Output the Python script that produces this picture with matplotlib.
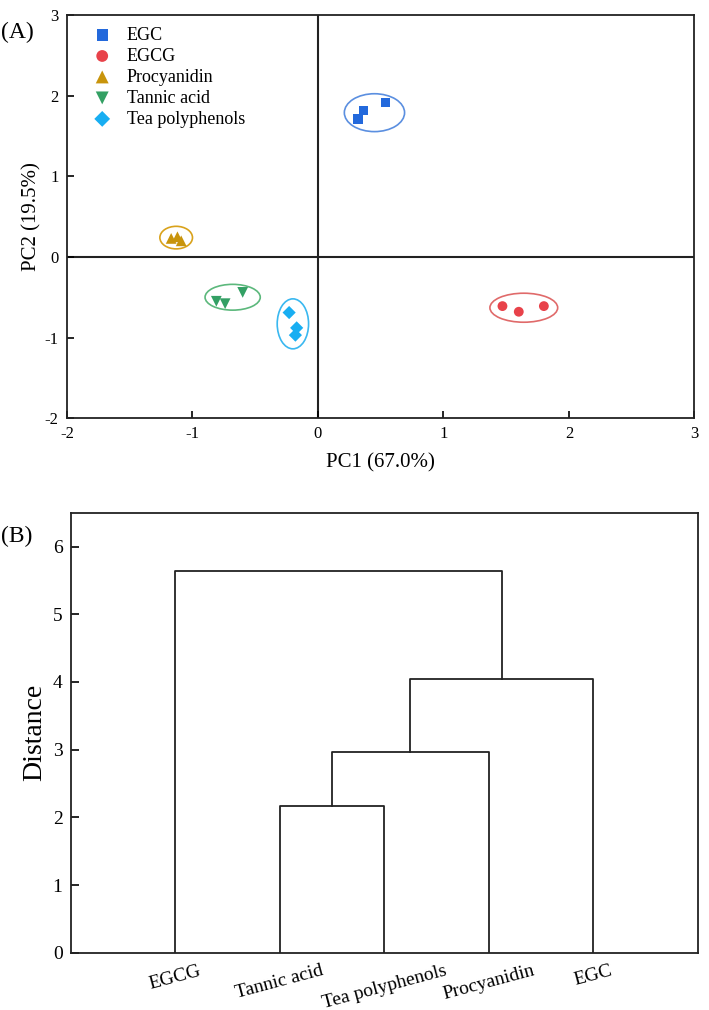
import numpy as np
import matplotlib
matplotlib.use("Agg")
import matplotlib.pyplot as plt
from matplotlib.patches import Ellipse

plt.rcParams['font.family'] = ['Liberation Serif', 'DejaVu Serif']
plt.rcParams['axes.unicode_minus'] = False

# ---- Panel A: PCA scores ----
groups = ["EGC", "EGCG", "Procyanidin", "Tannic acid", "Tea polyphenols"]
pc1 = {
    "EGC": [0.36, 0.32, 0.54],
    "EGCG": [1.47, 1.60, 1.80],
    "Procyanidin": [-1.17, -1.12, -1.09],
    "Tannic acid": [-0.81, -0.74, -0.60],
    "Tea polyphenols": [-0.23, -0.17, -0.18],
}
pc2 = {
    "EGC": [1.82, 1.71, 1.92],
    "EGCG": [-0.61, -0.68, -0.61],
    "Procyanidin": [0.23, 0.25, 0.20],
    "Tannic acid": [-0.55, -0.58, -0.44],
    "Tea polyphenols": [-0.69, -0.88, -0.97],
}
# confidence ellipses: center x, center y, width, height
ell_cx = [0.45, 1.64, -1.13, -0.68, -0.20]
ell_cy = [1.79, -0.63, 0.24, -0.50, -0.83]
ell_w = [0.48, 0.54, 0.26, 0.44, 0.25]
ell_h = [0.47, 0.36, 0.28, 0.32, 0.62]

markers = ["s", "o", "^", "v", "D"]
colors = ["#2369dc", "#e8424a", "#c8940c", "#33a064", "#18aef2"]
ell_colors = ["#5b8fe0", "#e06a6a", "#d9a21b", "#5cb87c", "#3ab8f0"]
sizes = [45, 50, 60, 60, 45]

# ---- Panel B: dendrogram ----
leaves = ["EGCG", "Tannic acid", "Tea polyphenols", "Procyanidin", "EGC"]
merge_heights = [2.16, 2.96, 4.05, 5.64]

fig = plt.figure(figsize=(7.09, 10.10), dpi=100)

ax1 = fig.add_axes([0.0945, 0.586, 0.885, 0.399])
for i, g in enumerate(groups):
    ax1.scatter(pc1[g], pc2[g], marker=markers[i], s=sizes[i], color=colors[i],
                label=g, edgecolors='none', zorder=3)
    ax1.add_patch(Ellipse((ell_cx[i], ell_cy[i]), ell_w[i], ell_h[i], fill=False,
                          edgecolor=ell_colors[i], lw=1.2, zorder=2))
ax1.axhline(0, color='#222222', lw=1.5, zorder=1)
ax1.axvline(0, color='#222222', lw=1.5, zorder=1)
ax1.set_xlim(-2, 3)
ax1.set_ylim(-2, 3)
ax1.set_xticks([-2, -1, 0, 1, 2, 3])
ax1.set_yticks([-2, -1, 0, 1, 2, 3])
ax1.tick_params(direction='in', length=5, width=1.2, labelsize=12, pad=6)
for sp in ax1.spines.values():
    sp.set_linewidth(1.3)
    sp.set_color('#222222')
ax1.set_xlabel("PC1 (67.0%)", fontsize=15, labelpad=8)
ax1.set_ylabel("PC2 (19.5%)", fontsize=15, labelpad=2)
leg = ax1.legend(loc='upper left', frameon=False, fontsize=13, handletextpad=0.6,
                 labelspacing=0.22, borderaxespad=0.8, handlelength=1.5,
                 markerscale=1.2, bbox_to_anchor=(0.0, 1.025))
fig.text(0.002, 0.962, "(A)", fontsize=17)

ax2 = fig.add_axes([0.100, 0.0567, 0.884, 0.4357])
xs = np.arange(1, len(leaves) + 1)
line_kw = dict(color='#222222', lw=1.3)
h1, h2, h3, h4 = merge_heights
# Tannic acid + Tea polyphenols
ax2.plot([xs[1], xs[1], xs[2], xs[2]], [0, h1, h1, 0], **line_kw)
n1 = (xs[1] + xs[2]) / 2
# + Procyanidin
ax2.plot([n1, n1, xs[3], xs[3]], [h1, h2, h2, 0], **line_kw)
n2 = (n1 + xs[3]) / 2
# + EGC
ax2.plot([n2, n2, xs[4], xs[4]], [h2, h3, h3, 0], **line_kw)
n3 = (n2 + xs[4]) / 2
# + EGCG
ax2.plot([xs[0], xs[0], n3, n3], [0, h4, h4, h3], **line_kw)
ax2.set_xlim(0, 6)
ax2.set_ylim(0, 6.5)
ax2.set_yticks([0, 1, 2, 3, 4, 5, 6])
ax2.set_xticks(xs)
ax2.set_xticklabels(leaves, rotation=15, fontsize=14)
ax2.tick_params(axis='y', direction='in', length=6, width=1.2, labelsize=14, pad=6)
ax2.tick_params(axis='x', length=0, pad=7)
for sp in ax2.spines.values():
    sp.set_linewidth(1.3)
    sp.set_color('#222222')
ax2.set_ylabel("Distance", fontsize=20, labelpad=4)
fig.text(0.002, 0.463, "(B)", fontsize=17)

fig.savefig("out.png", dpi=100)
